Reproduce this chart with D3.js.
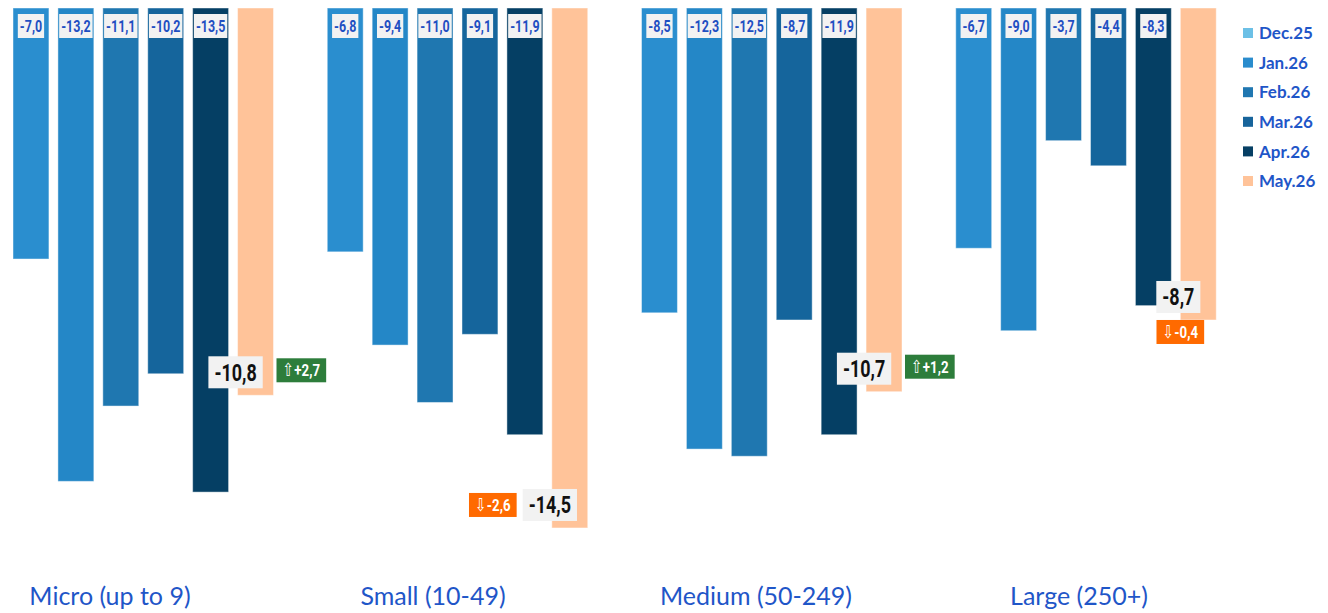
<!DOCTYPE html>
<html>
<head>
<meta charset="utf-8">
<script src="https://cdn.jsdelivr.net/npm/d3@7"></script>
<style>
  body { margin: 0; background: #fff; }
  .chart svg { display: block; }
</style>
</head>
<body>
<div class="chart"></div>
<script>
// data
var categories = ["Micro (up to 9)", "Small (10-49)", "Medium (50-249)", "Large (250+)"];
var months = ["Dec.25", "Jan.26", "Feb.26", "Mar.26", "Apr.26", "May.26"];
var dec25 = [-7.0, -6.8, -8.5, -6.7];
var jan26 = [-13.2, -9.4, -12.3, -9.0];
var feb26 = [-11.1, -11.0, -12.5, -3.7];
var mar26 = [-10.2, -9.1, -8.7, -4.4];
var apr26 = [-13.5, -11.9, -11.9, -8.3];
var may26 = [-10.8, -14.5, -10.7, -8.7];
var seriesValues = [dec25, jan26, feb26, mar26, apr26, may26];

var legendColors = ["#6cc0e6", "#2a8ccd", "#2077b1", "#17649b", "#063f64", "#ffc399"];
var barColors = ["#2a8ecf", "#2487c7", "#1f77b0", "#15659c", "#053f64", "#ffc399"];
// where the change badge sits next to the last label
var badgeSide = ["right", "left", "right", "below"];

var svgWidth = 1328;
var svgHeight = 613;

var fmt = function(v) { return d3.format(".1f")(v).replace(".", ",").replace("−", "-"); };
var narrow = "Roboto, 'DejaVu Sans', sans-serif";
var squeeze = 0.78;

var svg = d3.select(".chart")
  .append("svg")
  .attr("width", svgWidth)
  .attr("height", svgHeight);

var x0 = d3.scaleBand()
  .domain(categories)
  .range([13, 1270])
  .padding(0);

var x1 = d3.scaleBand()
  .domain(months)
  .range([0, 260.5])
  .paddingInner(0.2)
  .paddingOuter(0);

var y = d3.scaleLinear()
  .domain([0, -15])
  .range([8, 8 + 15 * 35.86]);

var xLabel = d3.scalePoint()
  .domain(categories)
  .range([110, 110 + 3 * 323]);

// condensed text: draw normal text and squeeze it sideways
function narrowText(sel, size, color, txt, arrow) {
  var t = sel.append("text")
    .attr("text-anchor", "middle")
    .attr("dy", "0.36em")
    .attr("transform", `scale(${squeeze},1)`)
    .style("font-family", narrow)
    .style("font-weight", "bold")
    .style("font-size", size + "px")
    .attr("fill", color);
  if (arrow) {
    t.append("tspan")
      .style("font-family", "'DejaVu Sans', sans-serif")
      .style("font-weight", "normal")
      .style("font-size", (size + 1) + "px")
      .text(arrow);
  }
  t.append("tspan").text(txt);
  var bb = t.node().getBBox();
  return { x: bb.x * squeeze, width: bb.width * squeeze };
}

var groups = svg.selectAll(".grp")
  .data(categories)
  .enter()
  .append("g")
  .attr("class", "grp")
  .attr("transform", d => `translate(${x0(d)},0)`);

groups.each(function(cat, ci) {
  var g = d3.select(this);
  var rows = months.map((m, si) => ({ month: m, si: si, value: seriesValues[si][ci] }));

  g.selectAll("rect.bar")
    .data(rows)
    .enter()
    .append("rect")
    .attr("class", "bar")
    .attr("x", d => x1(d.month))
    .attr("y", y(0))
    .attr("width", x1.bandwidth())
    .attr("height", d => y(d.value) - y(0))
    .attr("fill", d => barColors[d.si])
    .attr("stroke", "rgba(255,255,255,0.45)")
    .attr("stroke-width", 1);

  // small value labels at the top of the first five bars
  rows.slice(0, 5).forEach(function(d) {
    var tl = g.append("g")
      .attr("transform", `translate(${x1(d.month) + x1.bandwidth() / 2}, 26)`);
    var bb = narrowText(tl, 16, "#1f4fc2", fmt(d.value));
    tl.insert("rect", "text")
      .attr("x", bb.x - 2)
      .attr("y", -12)
      .attr("width", bb.width + 4)
      .attr("height", 24)
      .attr("fill", "#f2f2f2");
  });

  // big label for the latest month
  var last = rows[5];
  var prev = rows[4];
  var cx = x1(last.month) - 2;
  var cy = y(last.value) - 23;
  var big = g.append("g").attr("transform", `translate(${cx},${cy})`);
  var bb = narrowText(big, 23, "#111", fmt(last.value));
  big.insert("rect", "text")
    .attr("x", bb.x - 6)
    .attr("y", -16)
    .attr("width", bb.width + 12)
    .attr("height", 32)
    .attr("fill", "#f2f2f2");

  // change badge
  var diff = Math.round((last.value - prev.value) * 10) / 10;
  var up = diff > 0;
  var side = badgeSide[ci];
  var bh = 24;
  var badge = g.append("g");
  var tb = narrowText(badge, 17, "#fff", (up ? "+" : "") + fmt(diff), up ? "⇧" : "⇩");
  var bw = tb.width + 12;
  badge.insert("rect", "text")
    .attr("x", -bw / 2)
    .attr("y", -bh / 2)
    .attr("width", bw)
    .attr("height", bh)
    .attr("fill", up ? "#2d7d3b" : "#ff6a00");
  var bx, by;
  if (side === "right") { bx = x1(last.month) + x1.bandwidth() + 3 + bw / 2; by = cy - 2; }
  else if (side === "left") { bx = cx + bb.x - 6 - 6 - bw / 2; by = cy; }
  else { bx = cx + 2; by = cy + 16 + 7 + bh / 2; }
  badge.attr("transform", `translate(${bx},${by})`);
});

// category names under the groups
svg.selectAll("text.cat")
  .data(categories)
  .enter()
  .append("text")
  .attr("class", "cat")
  .attr("x", d => xLabel(d))
  .attr("y", 605)
  .attr("text-anchor", "middle")
  .style("font-family", "Lato, 'Open Sans', sans-serif")
  .style("font-size", "25px")
  .attr("fill", "#1f56c8")
  .text(d => d);

// legend
var legend = svg.append("g")
  .attr("transform", "translate(1243, 33)");
var li = legend.selectAll("g")
  .data(months)
  .enter()
  .append("g")
  .attr("transform", (d, i) => `translate(0, ${i * 29.6})`);
li.append("rect")
  .attr("x", 0)
  .attr("y", -5)
  .attr("width", 10)
  .attr("height", 10)
  .attr("fill", (d, i) => legendColors[i]);
li.append("text")
  .attr("x", 16)
  .attr("dy", "0.36em")
  .style("font-family", "Lato, sans-serif")
  .style("font-weight", "bold")
  .style("font-size", "17px")
  .attr("fill", "#1f56c8")
  .text(d => d);
</script>
</body>
</html>
